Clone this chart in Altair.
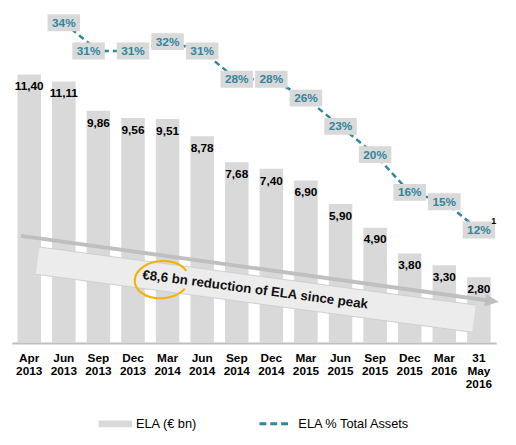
import altair as alt
import pandas as pd

# ---- data ----
categories = ["Apr 2013", "Jun 2013", "Sep 2013", "Dec 2013", "Mar 2014", "Jun 2014",
              "Sep 2014", "Dec 2014", "Mar 2015", "Jun 2015", "Sep 2015", "Dec 2015",
              "Mar 2016", "31 May 2016"]
ela_bn = [11.40, 11.11, 9.86, 9.56, 9.51, 8.78, 7.68, 7.40, 6.90, 5.90, 4.90, 3.80, 3.30, 2.80]

pct_categories = categories[1:]
ela_pct = [34, 31, 31, 32, 31, 28, 28, 26, 23, 20, 16, 15, 12]

bar_series = "ELA (€ bn)"
line_series = "ELA % Total Assets"

# annotation (in data units: x = band index, y = € bn)
arrow_x = [0.26, 13.72]
arrow_y = [4.55, 1.82]
arrow_tip_x = [13.88]
arrow_tip_y = [1.78]
box_x = [0.74, 13.36]
box_y = [3.50, 1.04]
note_text = ["€8,6 bn reduction of ELA since peak"]
note_x = [7.03]
note_y = [2.26]
circle_x = [4.31]
circle_y = [2.76]

# ---- tables ----
bars_df = pd.DataFrame({
    "cat": categories,
    "v": ela_bn,
    "lab": [f"{v:.2f}".replace(".", ",") for v in ela_bn],
    "series": bar_series,
})
line_df = pd.DataFrame({
    "cat": pct_categories,
    "p": ela_pct,
    "lab": [f"{p}%" for p in ela_pct],
    "series": line_series,
})
arrow_df = pd.DataFrame({"x": arrow_x, "y": arrow_y})
tip_df = pd.DataFrame({"x": arrow_tip_x, "y": arrow_tip_y})
box_df = pd.DataFrame({"x": box_x, "y": box_y})
note_df = pd.DataFrame({"x": note_x, "y": note_y, "t": note_text})
circle_df = pd.DataFrame({"x": circle_x, "y": circle_y})

W, H = 492, 335
FONT = "Liberation Sans"
TEAL = "#31859c"
GREY = "#d9d9d9"

xband = alt.Scale(domain=categories, paddingInner=0.32, paddingOuter=0.16)
ybn = alt.Scale(domain=[0, 14], nice=False, zero=True)
ypct = alt.Scale(domain=[0, 35], nice=False, zero=True)
xq = alt.Scale(domain=[0, 14], nice=False, zero=True)

X_cat = alt.X("cat:N", scale=xband, sort=categories, axis=None)

bars = alt.Chart(bars_df).mark_bar(color=GREY).encode(
    x=alt.X("cat:N", scale=xband, sort=categories, title=None,
            axis=alt.Axis(labelExpr="split(datum.label, ' ')", labelAngle=0,
                          labelFont=FONT, labelFontSize=12, labelFontWeight="bold",
                          labelColor="#000000", labelLineHeight=13, labelPadding=10,
                          labelBaseline="top",
                          ticks=False, domainColor="#bfbfbf", domainWidth=2)),
    y=alt.Y("v:Q", scale=ybn, axis=None),
    color=alt.Color("series:N", scale=alt.Scale(range=[GREY]),
                    legend=alt.Legend(orient="none", legendX=88, legendY=400, title=None,
                                      symbolType="M-1,-0.2L1,-0.2L1,0.2L-1,0.2Z",
                                      symbolSize=1156, symbolStrokeWidth=0,
                                      symbolOpacity=1,
                                      labelFont=FONT, labelFontSize=13, labelColor="#000000",
                                      labelOffset=4, padding=0)),
)

arrow_line = alt.Chart(arrow_df).mark_line(color="#bfbfbf", strokeWidth=4).encode(
    x=alt.X("x:Q", scale=xq, axis=None), y=alt.Y("y:Q", scale=ybn, axis=None))
arrow_head = alt.Chart(tip_df).mark_point(
    shape="M1,0L-1,-0.9L-1,0.9Z", filled=True, color="#bfbfbf", opacity=1,
    size=196, angle=8).encode(
    x=alt.X("x:Q", scale=xq, axis=None), y=alt.Y("y:Q", scale=ybn, axis=None))

box_edge = alt.Chart(box_df).mark_line(color="#cfcfcf", strokeWidth=29, strokeCap="butt").encode(
    x=alt.X("x:Q", scale=xq, axis=None), y=alt.Y("y:Q", scale=ybn, axis=None))
box_fill = alt.Chart(box_df).mark_line(color="#ececec", strokeWidth=27, strokeCap="butt").encode(
    x=alt.X("x:Q", scale=xq, axis=None), y=alt.Y("y:Q", scale=ybn, axis=None))

note = alt.Chart(note_df).mark_text(font=FONT, fontSize=13.5, fontWeight="bold",
                                    color="#111111", angle=7.5).encode(
    x=alt.X("x:Q", scale=xq, axis=None), y=alt.Y("y:Q", scale=ybn, axis=None), text="t:N")

circle = alt.Chart(circle_df).mark_point(
    shape="M0.85,0.45A1,0.69 0 1,1 0.95,-0.2", filled=False, color="#f2b40a",
    strokeWidth=2.2, opacity=1, size=3025, angle=356).encode(
    x=alt.X("x:Q", scale=xq, axis=None), y=alt.Y("y:Q", scale=ybn, axis=None))

bar_labels = alt.Chart(bars_df).mark_text(font=FONT, fontSize=12, fontWeight="bold",
                                          color="#000000", baseline="middle", dy=12).encode(
    x=X_cat, y=alt.Y("v:Q", scale=ybn, axis=None), text="lab:N")

line = alt.Chart(line_df).mark_line(strokeWidth=2.5, strokeDash=[6, 4]).encode(
    x=X_cat, y=alt.Y("p:Q", scale=ypct, axis=None),
    stroke=alt.Stroke("series:N", scale=alt.Scale(range=[TEAL]),
                      legend=alt.Legend(orient="none", legendX=250, legendY=400, title=None,
                                        symbolType="stroke", symbolSize=961,
                                        symbolStrokeWidth=3, symbolDash=[7, 4],
                                        symbolStrokeColor=TEAL,
                                        labelFont=FONT, labelFontSize=13, labelColor="#000000",
                                        labelOffset=7, padding=0)),
)

label_main = line_df["cat"] != "Sep 2013"

def pct_layer(df, dx):
    boxes = alt.Chart(df).mark_point(
        shape="M-1,-0.52L1,-0.52L1,0.52L-1,0.52Z", filled=True, color=GREY, opacity=1,
        size=1089, xOffset=dx).encode(x=X_cat, y=alt.Y("p:Q", scale=ypct, axis=None))
    texts = alt.Chart(df).mark_text(font=FONT, fontSize=12, fontWeight="bold", color=TEAL,
                                    baseline="middle", dx=dx).encode(
        x=X_cat, y=alt.Y("p:Q", scale=ypct, axis=None), text="lab:N")
    return [boxes, texts]

footnote = alt.Chart(line_df[line_df["cat"] == "31 May 2016"]).mark_text(
    text="1", font=FONT, fontSize=9, fontWeight="bold", color="#000000",
    dx=15, dy=-9).encode(x=X_cat, y=alt.Y("p:Q", scale=ypct, axis=None))

layers = [bars, arrow_line, arrow_head, box_edge, box_fill, note, circle, bar_labels, line]
layers += pct_layer(line_df[label_main], 0)
layers += pct_layer(line_df[~label_main], -10)
layers += [footnote]

chart = alt.layer(*layers).resolve_scale(
    x="independent", y="independent", color="independent", stroke="independent"
).properties(
    width=W, height=H,
    autosize=alt.AutoSizeParams(type="none"),
    padding={"left": 4, "top": 2, "right": 12, "bottom": 92},
).configure_view(stroke=None)

chart.save("out.html", embed_options={"renderer": "svg", "actions": False})
